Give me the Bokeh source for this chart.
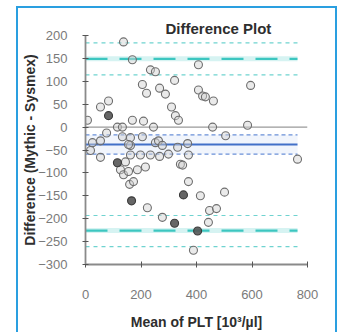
from bokeh.plotting import figure
from bokeh.embed import file_html
from bokeh.resources import INLINE
from bokeh.models import SingleIntervalTicker

# Data
mean_plt = [137, 169, 234, 252, 205, 220, 267, 288, 321, 407, 595, 407, 422, 432, 461,
            83, 54, 83, 7, 169, 209, 310, 324, 335, 115, 133, 245, 458, 584, 76,
            505, 25, 18, 133, 162, 205, 252, 263, 277, 162, 332, 368, 54, 115, 144,
            162, 198, 234, 267, 299, 371, 342, 764, 126, 137, 155, 159, 187, 216, 173,
            371, 353, 414, 501, 166, 223, 277, 321, 447, 472, 443, 404, 389, 350, 54, 155]
difference = [186, 147, 125, 121, 93, 74, 85, 72, 102, 136, 91, 81, 68, 66, 57,
              57, 44, 25, 15, 15, 13, 44, 25, 15, 0, 0, 0, 0, 4, -13,
              -19, -34, -51, -21, -23, -21, -34, -30, -40, -40, -44, -36, -66, -78, -76,
              -61, -61, -61, -64, -59, -61, -81, -70, -93, -104, -97, -125, -93, -87, -119,
              -119, -148, -150, -142, -161, -176, -197, -210, -182, -178, -208, -227, -269, -83, -30, -38]
dark = [0, 0, 0, 0, 0, 0, 0, 0, 0, 0, 0, 0, 0, 0, 0,
        0, 0, 1, 0, 0, 0, 0, 0, 0, 0, 0, 0, 0, 0, 0,
        0, 0, 0, 0, 0, 0, 0, 0, 0, 0, 0, 0, 0, 1, 0,
        0, 0, 0, 0, 0, 0, 0, 0, 0, 0, 0, 0, 0, 0, 0,
        0, 1, 0, 0, 1, 0, 0, 1, 0, 0, 0, 1, 0, 0, 0, 0]

mean_diff = -38
mean_ci = [-17, -59]
loa_upper = 149
loa_upper_ci = [184, 114]
loa_lower = -226
loa_lower_ci = [-193, -261]

x_ticks_interval = 200
y_ticks_interval = 50

p = figure(width=338, height=332, x_range=(0, 800), y_range=(-300, 200),
           output_backend="svg", toolbar_location=None,
           min_border_left=85, min_border_right=31, min_border_top=35, min_border_bottom=61)
bc = "#2a9fe0"
p.styles = {
    "background-image": f"linear-gradient({bc},{bc}), linear-gradient({bc},{bc}), linear-gradient({bc},{bc})",
    "background-size": "2px 100%, 321px 2px, 2px 100%",
    "background-position": "16px 6px, 16px 6px, 335px 6px",
    "background-repeat": "no-repeat",
}
p.outline_line_color = None
p.grid.visible = False
p.background_fill_color = "white"
p.border_fill_color = None

p.title.text = "Difference Plot"
p.title.align = "left"
p.title.offset = 80
p.title.standoff = -2
p.title.text_font = "Liberation Sans"
p.title.text_font_size = "15px"
p.title.text_font_style = "bold"
p.title.text_color = "#2e2e2e"

x0 = 0
x1 = max(mean_plt)

# CI band of the mean
p.quad(left=x0, right=x1, bottom=min(mean_ci), top=max(mean_ci),
       fill_color="#e4ecf9", fill_alpha=0.5, line_color=None)

# zero line
p.line([x0, 800], [0, 0], line_color="#9a9a9a", line_width=1.2)

# LoA lines
for v in [loa_upper, loa_lower]:
    p.line([x0, x1], [v, v], line_color="#d6f3f2", line_width=5)
    p.line([x0, x1], [v, v], line_color="#3cc6c0", line_width=2.2, line_dash="22 12")
for v in loa_upper_ci + loa_lower_ci:
    p.line([x0, x1], [v, v], line_color="#6fd3d0", line_width=1.2, line_dash="4 4")

# mean lines
p.line([x0, x1], [mean_diff, mean_diff], line_color="#4270c8", line_width=2.2)
for v in mean_ci:
    p.line([x0, x1], [v, v], line_color="#6a90d8", line_width=1.2, line_dash="4 3")

# points
light_x = [x for x, d in zip(mean_plt, dark) if not d]
light_y = [y for y, d in zip(difference, dark) if not d]
dark_x = [x for x, d in zip(mean_plt, dark) if d]
dark_y = [y for y, d in zip(difference, dark) if d]
p.scatter(light_x, light_y, size=8, marker="circle", line_color="#6e6e6e",
          fill_color="#d0d0d0", fill_alpha=0.45, line_width=1.1)
p.scatter(dark_x, dark_y, size=8, marker="circle", line_color="#3a3a3a",
          fill_color="#555555", fill_alpha=0.9, line_width=1.1)

# axes
for ax in [p.xaxis[0], p.yaxis[0]]:
    ax.axis_line_color = "#8a8a8a"
    ax.axis_line_width = 1.8
    ax.major_tick_line_color = "#555555"
    ax.major_tick_in = 3
    ax.major_tick_out = 3
    ax.minor_tick_line_color = None
    ax.major_label_text_font = "Liberation Sans"
    ax.major_label_text_font_size = "13px"
    ax.major_label_text_color = "#7a7a7a"
    ax.axis_label_text_font = "Liberation Sans"
    ax.axis_label_text_font_style = "bold"
    ax.axis_label_text_color = "#2e2e2e"

p.xaxis[0].axis_label_text_font_size = "14px"
p.yaxis[0].axis_label_text_font_size = "14px"
p.xaxis[0].ticker = SingleIntervalTicker(interval=x_ticks_interval)
p.yaxis[0].ticker = SingleIntervalTicker(interval=y_ticks_interval)
p.xaxis[0].major_label_standoff = 21
p.xaxis[0].axis_label_standoff = 12
p.yaxis[0].major_label_standoff = 14
p.yaxis[0].axis_label_standoff = -3
p.xaxis[0].axis_label = "Mean of PLT [10³/µl]"
p.yaxis[0].axis_label = "Difference (Mythic - Sysmex)"

open("out.html", "w").write(file_html(p, INLINE))
